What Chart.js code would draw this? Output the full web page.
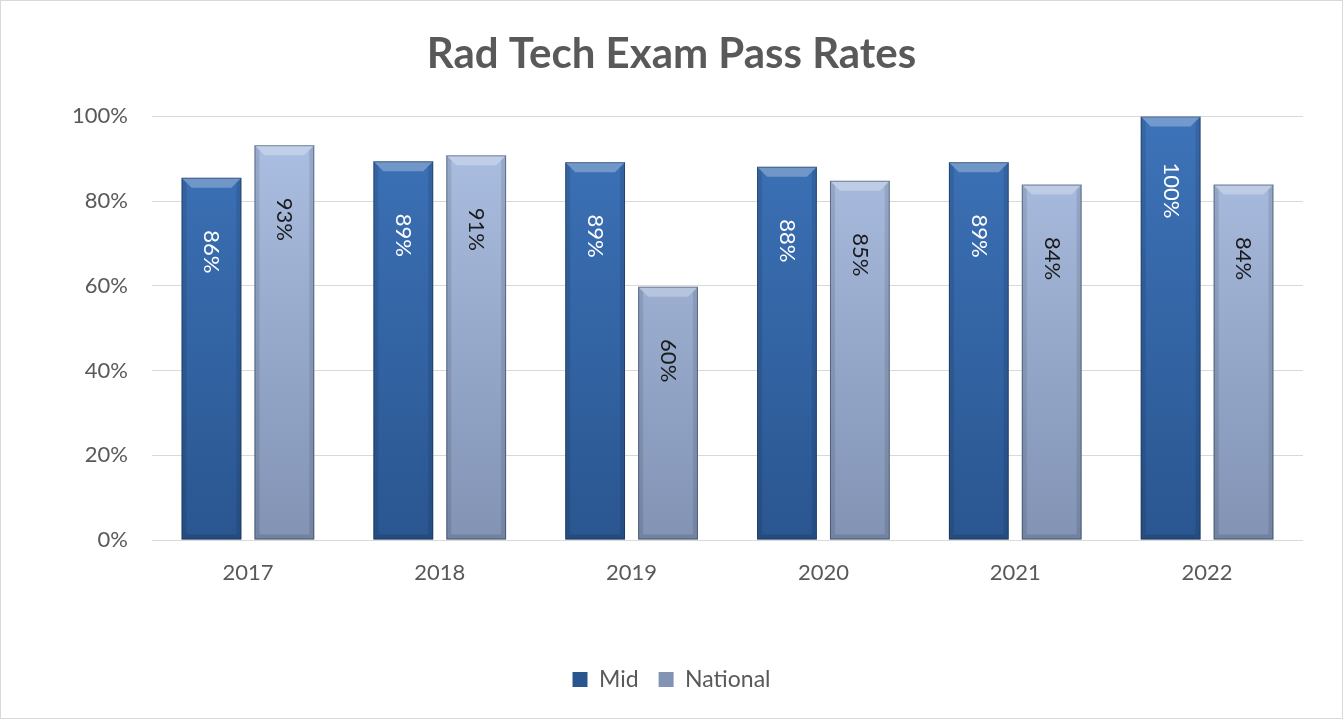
<!DOCTYPE html>
<html>
<head>
<meta charset="utf-8">
<title>Rad Tech Exam Pass Rates</title>
<script src="https://cdn.jsdelivr.net/npm/chart.js@4/dist/chart.umd.min.js"></script>
<style>
  html, body { margin: 0; padding: 0; background: #fff; }
  #wrap { width: 1343px; height: 719px; }
</style>
</head>
<body>
<div id="wrap"><canvas id="passChart" width="1343" height="719"></canvas></div>
<script>
// --- values ---
const YEARS = ['2017', '2018', '2019', '2020', '2021', '2022'];
const MID = [85.5, 89.4, 89.2, 88.1, 89.2, 100];
const NATIONAL = [93.2, 90.8, 59.8, 84.8, 83.9, 83.9];
const Y_MAX = 100;
const Y_STEP = 20;

const FONT = 'Lato, "Open Sans", "DejaVu Sans", sans-serif';
const GREY_TEXT = '#595959';

// vertical gradient over the plot area
function barFill(topColor, bottomColor) {
  return ctx => {
    const chart = ctx.chart;
    const a = chart.chartArea;
    if (!a) return bottomColor;
    const g = chart.ctx.createLinearGradient(0, a.top, 0, a.bottom);
    g.addColorStop(0, topColor);
    g.addColorStop(1, bottomColor);
    return g;
  };
}

// white page with thin grey frame
const framePlugin = {
  id: 'frame',
  beforeDraw(chart) {
    const c = chart.ctx;
    c.save();
    c.fillStyle = '#fff';
    c.fillRect(0, 0, chart.width, chart.height);
    c.restore();
  },
  afterDraw(chart) {
    const c = chart.ctx;
    c.save();
    c.strokeStyle = '#d9d9d9';
    c.lineWidth = 1;
    c.strokeRect(0.5, 0.5, chart.width - 1, chart.height - 1);
    c.restore();
  }
};

// bevelled look on every bar (uses the bar elements the library laid out)
const bevelPlugin = {
  id: 'bevel',
  afterDatasetDraw(chart, args) {
    const c = chart.ctx;
    const b = 10, side = 5;
    args.meta.data.forEach(bar => {
      const w = bar.width;
      const l = bar.x - w / 2, r = bar.x + w / 2;
      const t = bar.y, btm = bar.base;
      c.save();
      // top face
      c.beginPath();
      c.moveTo(l, t); c.lineTo(r, t); c.lineTo(r - b, t + b); c.lineTo(l + b, t + b); c.closePath();
      c.fillStyle = 'rgba(255,255,255,0.28)';
      c.fill();
      // side shading
      c.fillStyle = 'rgba(0,0,0,0.10)';
      c.beginPath();
      c.moveTo(l, t); c.lineTo(l + side, t + side); c.lineTo(l + side, btm - side); c.lineTo(l, btm); c.closePath();
      c.fill();
      c.beginPath();
      c.moveTo(r, t); c.lineTo(r - side, t + side); c.lineTo(r - side, btm - side); c.lineTo(r, btm); c.closePath();
      c.fill();
      // bottom face
      c.fillStyle = 'rgba(0,0,0,0.12)';
      c.beginPath();
      c.moveTo(l, btm); c.lineTo(r, btm); c.lineTo(r - side, btm - side); c.lineTo(l + side, btm - side); c.closePath();
      c.fill();
      // outline
      c.strokeStyle = 'rgba(20,35,60,0.45)';
      c.lineWidth = 1;
      c.strokeRect(l + 0.5, t + 0.5, w - 1, btm - t - 1);
      c.restore();
    });
  }
};

// rotated value labels inside the top of each bar
const valueLabels = {
  id: 'valueLabels',
  afterDatasetsDraw(chart) {
    const c = chart.ctx;
    chart.data.datasets.forEach((ds, i) => {
      const meta = chart.getDatasetMeta(i);
      meta.data.forEach((bar, j) => {
        c.save();
        c.translate(bar.x, bar.y + 74);
        c.rotate(Math.PI / 2);
        c.font = '22px ' + FONT;
        c.fillStyle = ds.labelColor;
        c.textAlign = 'center';
        c.textBaseline = 'middle';
        c.fillText(Math.round(ds.data[j]) + '%', 0, 0);
        c.restore();
      });
    });
  }
};

new Chart(document.getElementById('passChart'), {
  type: 'bar',
  data: {
    labels: YEARS,
    datasets: [
      {
        label: 'Mid',
        data: MID,
        backgroundColor: barFill('#3d73b9', '#2a5690'),
        labelColor: '#ffffff',
        categoryPercentage: 0.76,
        barPercentage: 0.82
      },
      {
        label: 'National',
        data: NATIONAL,
        backgroundColor: barFill('#adc1e4', '#8293b4'),
        labelColor: '#1a1a1a',
        categoryPercentage: 0.76,
        barPercentage: 0.82
      }
    ]
  },
  options: {
    responsive: false,
    animation: false,
    layout: { padding: { left: 0, right: 0, top: 0, bottom: 18 } },
    plugins: {
      title: {
        display: true,
        text: 'Rad Tech Exam Pass Rates',
        color: GREY_TEXT,
        font: { family: FONT, size: 42, weight: 'bold' },
        padding: { top: 29, bottom: 37 }
      },
      legend: {
        position: 'bottom',
        labels: {
          color: GREY_TEXT,
          font: { family: FONT, size: 23 },
          boxWidth: 15,
          boxHeight: 15,
          padding: 20
        }
      },
      tooltip: { enabled: false }
    },
    scales: {
      x: {
        grid: { display: false },
        border: { display: false },
        ticks: { color: GREY_TEXT, font: { family: FONT, size: 22 }, padding: 12 },
        afterFit: s => { s.height = 108; }
      },
      y: {
        min: 0,
        max: Y_MAX,
        grid: { color: '#d9d9d9', drawTicks: false },
        border: { display: false },
        ticks: {
          stepSize: Y_STEP,
          color: GREY_TEXT,
          font: { family: FONT, size: 22 },
          padding: 24,
          callback: v => v + '%'
        },
        afterFit: s => { s.width = 152; }
      },
      // empty right margin so title and legend centre on the whole page
      yRight: {
        position: 'right',
        min: 0,
        max: Y_MAX,
        grid: { display: false },
        border: { display: false },
        ticks: { display: false },
        afterFit: s => { s.width = 40; }
      }
    }
  },
  plugins: [framePlugin, bevelPlugin, valueLabels]
});
</script>
</body>
</html>
